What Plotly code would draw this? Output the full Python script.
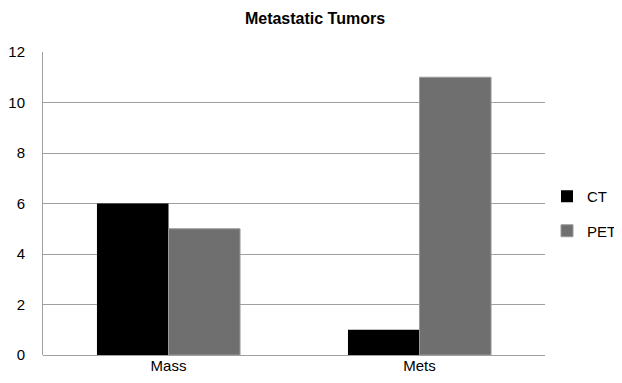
import plotly.graph_objects as go

categories = ["Mass", "Mets"]
ct_values = [6, 1]
pet_values = [5, 11]
y_ticks = [0, 2, 4, 6, 8, 10, 12]

fig = go.Figure()
fig.add_trace(go.Bar(x=categories, y=ct_values, name="CT", legendgroup="ct",
                     marker=dict(color="#000000", line=dict(width=0))))
fig.add_trace(go.Bar(x=categories, y=pet_values, name="PET", legendgroup="pet",
                     marker=dict(color="#6f6f6f", line=dict(color="#9a9a9a", width=1))))

fig.update_layout(
    width=614, height=375,
    paper_bgcolor="white", plot_bgcolor="white",
    font=dict(family="Liberation Sans, Arial, sans-serif", size=14, color="black"),
    title=dict(text="<b>Metastatic Tumors</b>", x=0.5, xanchor="center", y=0.971, yanchor="middle",
               font=dict(size=16)),
    margin=dict(l=35, r=77, t=44, b=28, autoexpand=False),
    barmode="group", bargap=0.43, bargroupgap=0,
    legend=dict(xref="container", yref="container", x=1.0, y=0.452, xanchor="right", yanchor="middle",
                traceorder="grouped", tracegroupgap=12, itemwidth=30, font=dict(size=15)),
    xaxis=dict(showgrid=False, showline=False, ticks="", tickfont=dict(size=15), automargin=False),
    yaxis=dict(range=[0, 12], tickvals=y_ticks, showgrid=True, gridcolor="#a0a0a0", gridwidth=1,
               showline=True, linecolor="#a0a0a0", linewidth=1, ticks="", ticklabelstandoff=14,
               zeroline=True, zerolinecolor="#a0a0a0", zerolinewidth=1, tickfont=dict(size=15),
               automargin=False),
)

fig.write_html("out.html")
